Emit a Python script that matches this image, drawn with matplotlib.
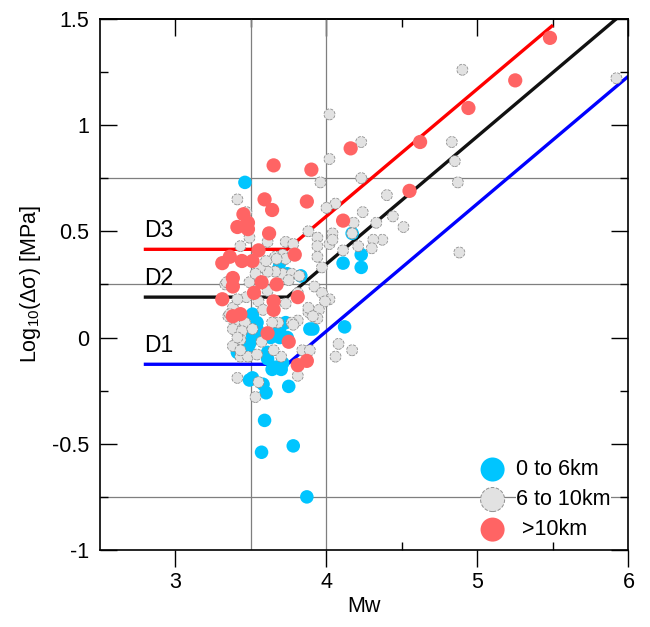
import matplotlib
matplotlib.use("Agg")
import matplotlib.pyplot as plt
from matplotlib.ticker import FixedLocator, FuncFormatter
import numpy as np

plt.rcParams['font.family'] = ['Liberation Sans', 'DejaVu Sans']
plt.rcParams['mathtext.fontset'] = 'custom'
plt.rcParams['mathtext.rm'] = 'Liberation Sans'
plt.rcParams['mathtext.it'] = 'Liberation Sans'
plt.rcParams['mathtext.default'] = 'regular'
plt.rcParams['axes.unicode_minus'] = False

# ---------------- data ----------------
# 0 to 6 km
shallow_mw = [3.46, 3.59, 3.57, 3.78, 3.87, 3.75, 3.60, 3.49, 3.91, 4.12, 3.42, 3.61, 3.64,
              3.71, 3.49, 3.69, 3.51, 3.51, 3.54, 3.53, 3.58, 3.41, 3.48, 3.66, 3.51, 3.58,
              3.68, 3.73, 3.70, 4.11, 4.23, 4.23, 4.17, 3.74, 3.83, 3.89, 3.69, 3.63, 3.74,
              3.69, 3.54, 3.61]
shallow_ds = [0.73, -0.39, -0.54, -0.51, -0.75, -0.23, -0.26, -0.20, 0.04, 0.05, -0.07, -0.10, -0.15,
              -0.12, -0.03, 0.00, 0.01, 0.11, 0.07, 0.00, 0.01, -0.07, -0.06, -0.14, -0.19, -0.22,
              0.32, 0.07, -0.15, 0.35, 0.39, 0.33, 0.49, 0.30, 0.29, 0.04, 0.35, 0.00, 0.00,
              0.04, 0.04, -0.07]

# 6 to 10 km
mid_mw = [5.92, 4.90, 4.02, 4.23, 4.02, 4.23, 4.83, 4.85, 4.87, 4.40, 4.06, 4.24, 4.44, 4.18,
          4.33, 4.51, 4.04, 4.02, 4.37, 4.31, 4.21, 4.30, 4.11, 4.88, 4.02, 4.08, 4.17, 4.06,
          4.17, 3.96, 4.00, 3.88, 3.94, 4.04, 3.73, 3.78, 3.94, 3.94, 3.71, 3.66, 3.73,
          3.71, 3.77, 3.82, 3.97, 3.75, 3.92, 3.97, 3.99, 3.95, 3.88, 3.94, 3.81, 3.77, 3.68,
          3.84, 3.89, 3.70, 3.81, 3.73, 3.66,
          3.41, 3.47, 3.49, 3.61, 3.43, 3.67,
          3.61, 3.49, 3.33, 3.61, 3.47, 3.55, 3.38, 3.58, 3.35, 3.39, 3.46, 3.38, 3.44, 3.51,
          3.64, 3.43, 3.38, 3.57, 3.65, 3.43, 3.48, 3.54, 3.41, 3.55, 3.53,
          3.41, 3.34, 3.36, 3.41, 3.43, 3.81, 3.88, 3.78, 3.91, 3.56, 3.60, 3.53]
mid_ds = [1.22, 1.26, 1.05, 0.92, 0.84, 0.75, 0.92, 0.83, 0.73, 0.67, 0.63, 0.59, 0.57, 0.54,
          0.54, 0.52, 0.49, 0.44, 0.46, 0.46, 0.43, 0.42, 0.41, 0.40, 0.18, -0.03, -0.06, -0.09,
          0.49, 0.73, 0.61, 0.50, 0.47, 0.46, 0.45, 0.44, 0.43, 0.38, 0.39, 0.38, 0.37,
          0.30, 0.30, 0.29, 0.33, 0.27, 0.24, 0.21, 0.17, 0.13, 0.12, 0.09, 0.08, 0.07, 0.07,
          -0.06, -0.06, -0.09, -0.18, 0.16, 0.31,
          0.65, 0.59, 0.47, 0.45, 0.43, 0.37,
          0.31, 0.26, 0.25, 0.22, 0.19, 0.17, 0.14, 0.13, 0.10, 0.07, 0.07, 0.04, 0.03, 0.04,
          0.07, -0.01, -0.04, -0.02, -0.06, -0.09, -0.09, -0.08, -0.19, -0.21, -0.28,
          0.18, 0.26, 0.11, 0.00, -0.06, 0.21, 0.14, 0.06, 0.10, 0.33, 0.36, 0.30]

# >10 km
deep_mw = [5.48, 5.25, 4.94, 4.62, 4.55, 4.16, 4.11, 3.90, 3.87, 3.65, 3.59, 3.64, 3.45, 3.48,
           3.41, 3.48, 3.62, 3.55, 3.79, 3.36, 3.44, 3.51, 3.31, 3.38, 3.38, 3.57, 3.67, 3.52,
           3.31, 3.65, 3.65, 3.81, 3.38, 3.43, 3.61, 3.75, 3.81, 3.87]
deep_ds = [1.41, 1.21, 1.08, 0.92, 0.69, 0.89, 0.55, 0.79, 0.64, 0.81, 0.65, 0.60, 0.58, 0.54,
           0.52, 0.51, 0.49, 0.41, 0.39, 0.38, 0.36, 0.36, 0.35, 0.28, 0.24, 0.26, 0.25, 0.21,
           0.18, 0.17, 0.13, 0.19, 0.10, 0.11, 0.02, -0.02, -0.13, -0.11]

# model lines
d1_mw = [2.79, 3.74, 6.00]
d1_ds = [-0.126, -0.126, 1.23]
d2_mw = [2.79, 3.74, 5.92]
d2_ds = [0.19, 0.19, 1.50]
d3_mw = [2.79, 3.74, 5.50]
d3_ds = [0.415, 0.415, 1.47]

x_ticks = [3, 4, 5, 6]
y_ticks = [-1, -0.5, 0, 0.5, 1, 1.5]
x_grid = [3.5, 4.0]
y_grid = [0.75, 0.25, -0.75]

c_blue = '#00C5FF'
c_gray = '#E2E2E2'
c_red = '#FF6464'

# ---------------- figure ----------------
fig = plt.figure(figsize=(6.5, 6.27), dpi=100)
ax = fig.add_axes([0.1538, 0.1228, 0.8131, 0.8473])
ax.set_xlim(2.5, 6)
ax.set_ylim(-1, 1.5)

for gx in x_grid:
    ax.axvline(gx, color='#7f7f7f', lw=0.9, zorder=0.5)
for gy in y_grid:
    ax.axhline(gy, color='#7f7f7f', lw=0.9, zorder=0.5)

ax.plot(d1_mw, d1_ds, color='#0000FF', lw=2.4, zorder=1, solid_capstyle='butt')
ax.plot(d2_mw, d2_ds, color='#111111', lw=2.4, zorder=1, solid_capstyle='butt')
ax.plot(d3_mw, d3_ds, color='#FF0000', lw=2.4, zorder=1, solid_capstyle='butt')

ax.text(d1_mw[0], d1_ds[0] + 0.035, 'D1', fontsize=16.5, ha='left', va='bottom')
ax.text(d2_mw[0], d2_ds[0] + 0.035, 'D2', fontsize=16.5, ha='left', va='bottom')
ax.text(d3_mw[0], d3_ds[0] + 0.035, 'D3', fontsize=16.5, ha='left', va='bottom')

ax.scatter(shallow_mw, shallow_ds, s=95, color=c_blue, edgecolors='none', zorder=2)
ax.scatter(mid_mw, mid_ds, s=62, facecolor=c_gray, edgecolors='#909090', linewidths=0.6,
           linestyles='--', zorder=3)
ax.scatter(deep_mw, deep_ds, s=105, color=c_red, edgecolors='none', zorder=4)

# legend proxies
h1 = ax.scatter([], [], s=300, color=c_blue, edgecolors='none')
h2 = ax.scatter([], [], s=300, facecolor=c_gray, edgecolors='#909090', linewidths=0.7,
                linestyles='--')
h3 = ax.scatter([], [], s=300, color=c_red, edgecolors='none')
leg = ax.legend([h1, h2, h3], ['0 to 6km', '6 to 10km', ' >10km'], loc='lower right',
                bbox_to_anchor=(0.995, -0.01), frameon=False, fontsize=15.5,
                scatterpoints=1, handletextpad=0.4, labelspacing=0.42, borderpad=0.2,
                handlelength=1.4)
leg.set_zorder(6)
for t in leg.get_texts():
    t.set_bbox(dict(facecolor='white', edgecolor='none', pad=0.5))

# axes formatting
for sp in ax.spines.values():
    sp.set_linewidth(1.2)
    sp.set_zorder(7)

fmt = FuncFormatter(lambda v, p: ('%g' % v))
ax.xaxis.set_major_locator(FixedLocator(x_ticks))
ax.xaxis.set_minor_locator(FixedLocator([4.5, 5.5]))
ax.yaxis.set_major_locator(FixedLocator(y_ticks))
ax.yaxis.set_minor_locator(FixedLocator([-0.75, -0.25, 0.25, 0.75, 1.25]))
ax.xaxis.set_major_formatter(fmt)
ax.yaxis.set_major_formatter(fmt)

ax.tick_params(axis='x', which='major', direction='out', length=12, width=1.0,
               labelsize=15.5, pad=4, bottom=True, top=False)
ax.tick_params(axis='x', which='minor', direction='in', length=6, width=1.0, bottom=True, top=False)
ax.tick_params(axis='y', which='major', direction='in', length=12, width=1.0,
               labelsize=15.5, pad=8, left=True, right=True)
ax.tick_params(axis='y', which='minor', direction='in', length=6, width=1.0, left=True, right=True)

sec = ax.secondary_xaxis('top')
sec.xaxis.set_major_locator(FixedLocator(x_ticks))
sec.xaxis.set_minor_locator(FixedLocator([3.5, 4.5, 5.5]))
sec.tick_params(which='major', direction='in', length=12, width=1.0, labeltop=False)
sec.tick_params(which='minor', direction='in', length=6, width=1.0)
sec.spines['top'].set_linewidth(1.2)

ax.set_xlabel('Mw', fontsize=15.5, labelpad=2)
ax.set_ylabel('Log$_{10}$(Δσ) [MPa]', fontsize=15.5, labelpad=6)

fig.savefig('out.png', dpi=100)
